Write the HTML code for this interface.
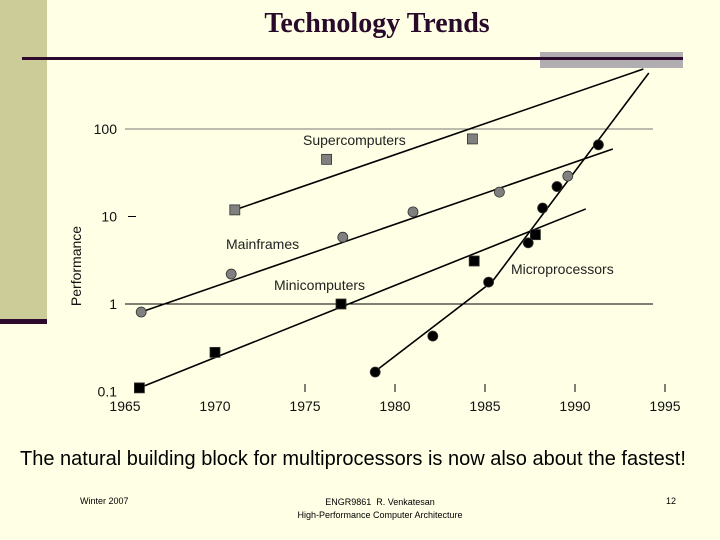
<!DOCTYPE html>
<html><head><meta charset="utf-8"><style>
body{margin:0;}
#slide{position:relative;width:720px;height:540px;background:#ffffe5;overflow:hidden;font-family:"Liberation Sans",Arial,sans-serif;}
.abs{position:absolute;}
</style></head><body>
<div id="slide">
<div class="abs" style="left:0;top:0;width:47px;height:319px;background:#cccc99"></div>
<div class="abs" style="left:0;top:319px;width:47px;height:5px;background:#2d0a2d"></div>
<div class="abs" style="left:47px;width:660px;top:8px;text-align:center;font-family:'Liberation Serif',serif;font-weight:bold;font-size:28px;color:#2a0a2a">Technology Trends</div>
<div class="abs" style="left:540px;top:52px;width:143px;height:16px;background:#b0aeb0"></div>
<div class="abs" style="left:22px;top:57px;width:661px;height:3px;background:#2d0a2d"></div>
<svg class="abs" style="left:0;top:0" width="720" height="540">
<g id="g"></g>
</svg>
<div class="abs" style="left:20px;top:448px;font-size:20px;color:#000">The natural building block for multiprocessors is now also about the fastest!</div>
<div class="abs" style="left:80px;top:496px;font-size:9px">Winter 2007</div>
<div class="abs" style="left:260px;width:240px;top:496px;font-size:9px;text-align:center;line-height:13px">ENGR9861 &nbsp;R. Venkatesan<br>High-Performance Computer Architecture</div>
<div class="abs" style="left:666px;top:496px;font-size:9px">12</div>
</div>
<script>
const xTicks=[1965,1970,1975,1980,1985,1990,1995];
const yTicks=[0.1,1,10,100];
const yTickLabels=["0.1","1","10","100"];
const superYears=[1971.1,1976.2,1984.3];
const superVals=[11.9,45,77];
const superLine=[[1971.1,11.9],[1993.8,485]];
const mainYears=[1965.9,1970.9,1977.1,1981.0,1985.8,1989.6];
const mainVals=[0.81,2.2,5.8,11.3,19,29];
const mainLine=[[1965.9,0.81],[1992.1,59]];
const miniYears=[1965.8,1970,1977,1984.4,1987.8];
const miniVals=[0.11,0.28,1.0,3.1,6.2];
const miniLine=[[1965.8,0.11],[1990.6,12.2]];
const microYears=[1978.9,1982.1,1985.2,1987.4,1988.2,1989,1991.3];
const microVals=[0.167,0.43,1.78,5,12.5,22,66];
const microLine=[[1978.9,0.17],[1985.4,1.8],[1994.1,437]];

const X=y=>125+18*(y-1965);
const Y=v=>304-87.5*Math.log10(v);
const NS="http://www.w3.org/2000/svg";
const g=document.getElementById('g');
function mk(t,a,p){const e=document.createElementNS(NS,t);for(const k in a)e.setAttribute(k,a[k]);(p||g).appendChild(e);return e;}
let e=mk('line',{x1:125,x2:653,y1:Y(100),y2:Y(100),stroke:'#777','stroke-width':1});


e=mk('line',{x1:125,x2:653,y1:Y(1),y2:Y(1),stroke:'#000','stroke-width':1});


e=mk('line',{x1:128,x2:136,y1:Y(10),y2:Y(10),stroke:'#000','stroke-width':1});


yTicks.forEach((v,i)=>{
 const t=mk('text',{x:117,y:Y(v)+5,'text-anchor':'end','font-size':14,fill:'#111'});
 t.textContent=yTickLabels[i];
 
 
});
xTicks.forEach((yr,i)=>{
 if(i>1){const l=mk('line',{x1:X(yr),x2:X(yr),y1:384,y2:392,stroke:'#000','stroke-width':1});
 
 }
 const t=mk('text',{x:X(yr),y:411,'text-anchor':'middle','font-size':14,fill:'#111'});
 t.textContent=yr;
 
 
});
const yt=mk('text',{x:0,y:0,transform:'translate(81,266) rotate(-90)','text-anchor':'middle','font-size':14,fill:'#111'});
yt.textContent='Performance';


function line(pts,name){const l=mk('polyline',{points:pts.map(p=>X(p[0])+','+Y(p[1])).join(' '),fill:'none',stroke:'#000','stroke-width':1.6});
 
 }
function pts(ys,vs,shape,fill,name){ys.forEach((yr,i)=>{const cx=X(yr),cy=Y(vs[i]);let m;
 if(shape==='sq')m=mk('rect',{x:cx-5,y:cy-5,width:10,height:10,fill:fill,stroke:'#333','stroke-width':0.8});
 else m=mk('circle',{cx:cx,cy:cy,r:5,fill:fill,stroke:'#333','stroke-width':0.8});
 
 });}
line(superLine,'supercomputers-trend');line(mainLine,'mainframes-trend');line(miniLine,'minicomputers-trend');line(microLine,'microprocessors-trend');
pts(superYears,superVals,'sq','#808080','supercomputer-point');
pts(mainYears,mainVals,'c','#808080','mainframe-point');
pts(miniYears,miniVals,'sq','#000','minicomputer-point');
pts(microYears,microVals,'c','#000','microprocessor-point');
[['Supercomputers',303,145,'supercomputers-label'],['Mainframes',226,249,'mainframes-label'],['Minicomputers',274,290,'minicomputers-label'],['Microprocessors',511,274,'microprocessors-label']].forEach(a=>{
 const t=mk('text',{x:a[1],y:a[2],'font-size':14,fill:'#222'});
 t.textContent=a[0];
 
 
});
</script>
</body></html>
